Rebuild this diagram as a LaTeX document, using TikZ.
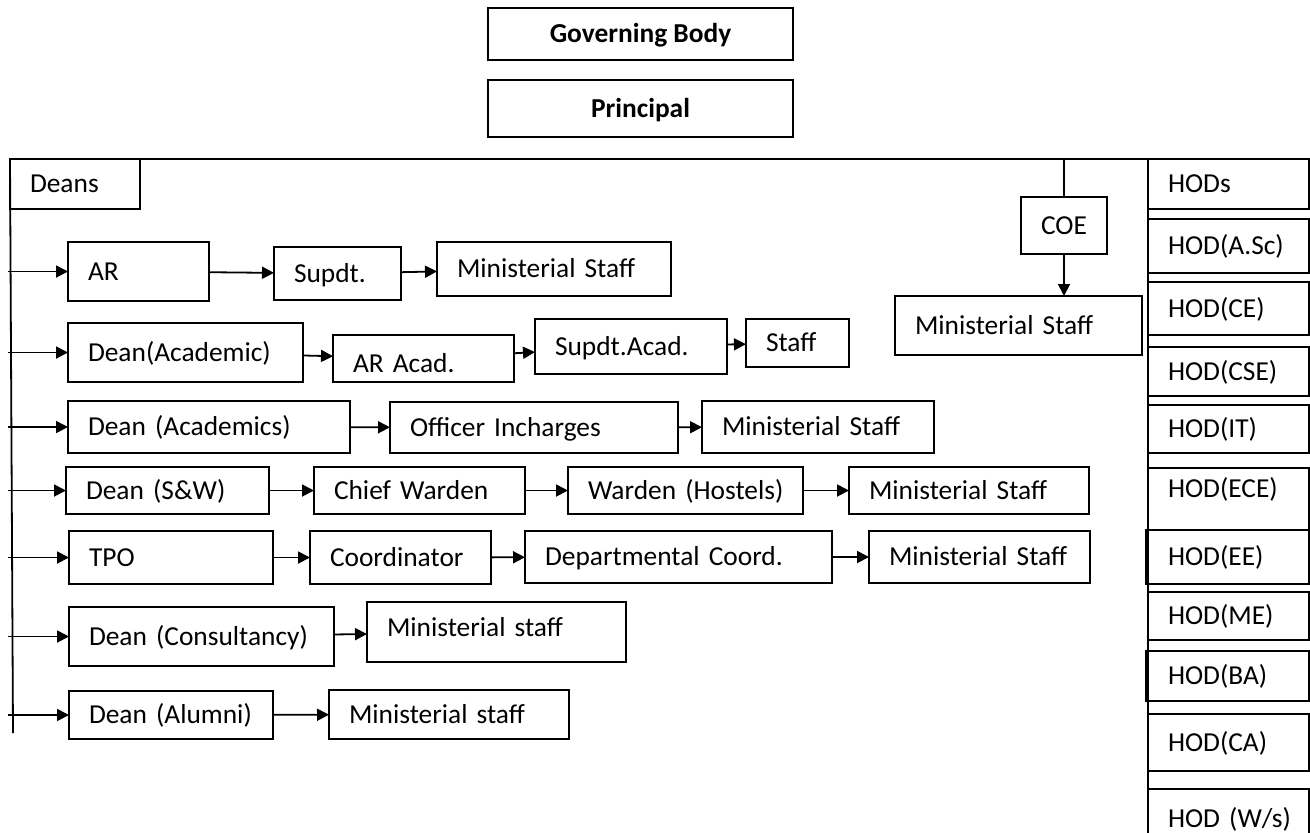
\documentclass[tikz,border=0pt]{standalone}
\usepackage{fontspec}
\setmainfont{Carlito}
\usepackage{tikz}
\usetikzlibrary{arrows.meta, positioning}
\tikzset{
box/.style 2 args = {%
    draw, rectangle, anchor=north west, align=left,
    inner xsep=8pt, inner ysep=0pt, outer sep=0pt,
    text width={#1*0.5pt-16pt}, minimum height={#2*0.5pt},
    text height=10pt, text depth=1.2pt},
cbox/.style 2 args = {%
    draw, rectangle, anchor=north west, align=center,
    inner sep=0pt, outer sep=0pt,
    minimum width={#1*0.5pt}, minimum height={#2*0.5pt},
    text height=10pt, text depth=1.2pt}
}

\begin{document}
\begin{tikzpicture}[%
        x=0.5pt, y=-0.5pt, line width=0.9pt,
        every node/.style = {font=\fontsize{13.7}{16}\selectfont},
        every edge/.style = {draw, -{Triangle[length=6pt,width=6pt]}}
    ]
        \useasboundingbox (0,0) rectangle (1310,832);

        % Top of the chart
        \node[cbox={305}{52}, font=\fontsize{13.7}{16}\selectfont\bfseries] at (488,8)  (gb)   {Governing Body};
        \node[cbox={305}{57}, font=\fontsize{13.7}{16}\selectfont\bfseries] at (488,80) (prin) {Principal};

        % Deans box and the left spine
        \node[box={130}{50}] at (10,159) (deans) {\hspace{2pt}Deans};
        \coordinate (spine)    at (8,159);
        \coordinate (spinebot) at (13,733);

        % Row 1
        \node[box={141}{59}] at (68,242)  (ar)     {\hspace{2pt}AR};
        \node[box={127}{53}] at (274,247) (supdt)  {\hspace{2pt}Supdt.};
        \node[box={234}{54}] at (437,242) (msa)    {\hspace{2pt}Ministerial Staff};

        % Row 2
        \node[box={235}{59}] at (68,323)  (deanacad)  {\hspace{2pt}Dean(Academic)};
        \node[box={181}{47}] at (333,335) (aracad)    {\hspace{2pt}\raisebox{-2.5pt}{AR Acad.}};
        \node[box={192}{55}] at (535,319) (supdtacad) {\hspace{2pt}Supdt.Acad.};
        \node[box={103}{48}] at (746,319) (staff)     {\hspace{2pt}Staff};

        % Row 3
        \node[box={282}{52}] at (68,401)  (deanacads) {\hspace{2pt}Dean (Academics)};
        \node[box={288}{51}] at (390,402) (officer)   {\hspace{2pt}Officer Incharges};
        \node[box={232}{52}] at (702,401) (msb)       {\hspace{2pt}Ministerial Staff};

        % Row 4
        \node[box={203}{47}] at (66,467)  (deansw) {\hspace{2pt}Dean (S\&W)};
        \node[box={211}{47}] at (314,467) (chief)  {\hspace{2pt}Chief Warden};
        \node[box={235}{47}] at (568,467) (warden) {\hspace{2pt}Warden (Hostels)};
        \node[box={240}{47}] at (849,467) (msc)    {\hspace{2pt}Ministerial Staff};

        % Row 5
        \node[box={204}{53}] at (69,531)  (tpo)       {\hspace{2pt}TPO};
        \node[box={181}{53}] at (310,531) (coord)     {\hspace{2pt}Coordinator};
        \node[box={307}{52}] at (525,531) (deptcoord) {\hspace{2pt}Departmental Coord.};
        \node[box={221}{52}] at (869,531) (msd)       {\hspace{2pt}Ministerial Staff};

        % Row 6 and row 7
        \node[box={265}{59}] at (69,607)  (deancons)  {\hspace{2pt}Dean (Consultancy)};
        \node[box={259}{60}] at (367,602) (mse)       {\hspace{2pt}\raisebox{2pt}{Ministerial staff}};
        \node[box={204}{48}] at (69,691)  (deanalum)  {\hspace{2pt}Dean (Alumni)};
        \node[box={240}{49}] at (329,690) (msf)       {\hspace{2pt}Ministerial staff};

        % COE branch
        \node[cbox={86}{57}]  at (1021,197) (coe)   {COE};
        \node[box={247}{59}]  at (895,296)  (coems) {\hspace{2pt}Ministerial Staff};

        % HOD column
        \node[box={161}{50}] at (1148,159) (hods)   {\hspace{2pt}HODs};
        \node[box={161}{54}] at (1148,219) (hodasc) {\hspace{2pt}HOD(A.Sc)};
        \node[box={161}{53}] at (1148,282) (hodce)  {\hspace{2pt}HOD(CE)};
        \node[box={161}{49}] at (1148,347) (hodcse) {\hspace{2pt}HOD(CSE)};
        \node[box={161}{48}] at (1148,405) (hodit)  {\hspace{2pt}HOD(IT)};
        \node[box={161}{62}] at (1148,468) (hodece) {\hspace{2pt}\raisebox{5pt}{HOD(ECE)}};
        \node[box={163}{54}] at (1146,530) (hodee)  {\hspace{3pt}HOD(EE)};
        \node[box={161}{48}] at (1148,592) (hodme)  {\hspace{2pt}HOD(ME)};
        \node[box={163}{50}] at (1146,651) (hodba)  {\hspace{3pt}HOD(BA)};
        \node[box={161}{57}] at (1148,714) (hodca)  {\hspace{2pt}HOD(CA)};
        \node[box={161}{60}] at (1148,789) (hodws)  {\hspace{2pt}HOD (W/s)};

        % Frame lines
        \draw (deans.north west) -- (hods.north west);
        \draw (deans.north west) -- (spinebot);
        \draw (hods.north west) -- (hodws.south west);
        \draw (coe.north) -- (coe.north |- deans.north);
        \draw (coe.south) edge (coe.south |- coems.north);

        % Arrows from the spine
        \draw (ar.west -| spine)        edge (ar.west);
        \draw (deanacad.west -| spine)  edge (deanacad.west);
        \draw (deanacads.west -| spine) edge (deanacads.west);
        \draw (deansw.west -| spine)    edge (deansw.west);
        \draw (tpo.west -| spine)       edge (tpo.west);
        \draw (deancons.west -| spine)  edge (deancons.west);
        \draw (deanalum.west -| spine)  edge (deanalum.west);

        % Arrows along the rows
        \draw (ar)        edge (supdt);
        \draw (supdt)     edge (msa);
        \draw (deanacad)  edge (aracad);
        \draw (aracad)    edge (supdtacad);
        \draw (supdtacad) edge (staff);
        \draw (deanacads) edge (officer);
        \draw (officer)   edge (msb);
        \draw (deansw)    edge (chief);
        \draw (chief)     edge (warden);
        \draw (warden)    edge (msc);
        \draw (tpo)       edge (coord);
        \draw (coord)     edge (deptcoord);
        \draw (deptcoord) edge (msd);
        \draw (deancons)  edge (mse);
        \draw (deanalum)  edge (msf);

    \end{tikzpicture}
\end{document}
